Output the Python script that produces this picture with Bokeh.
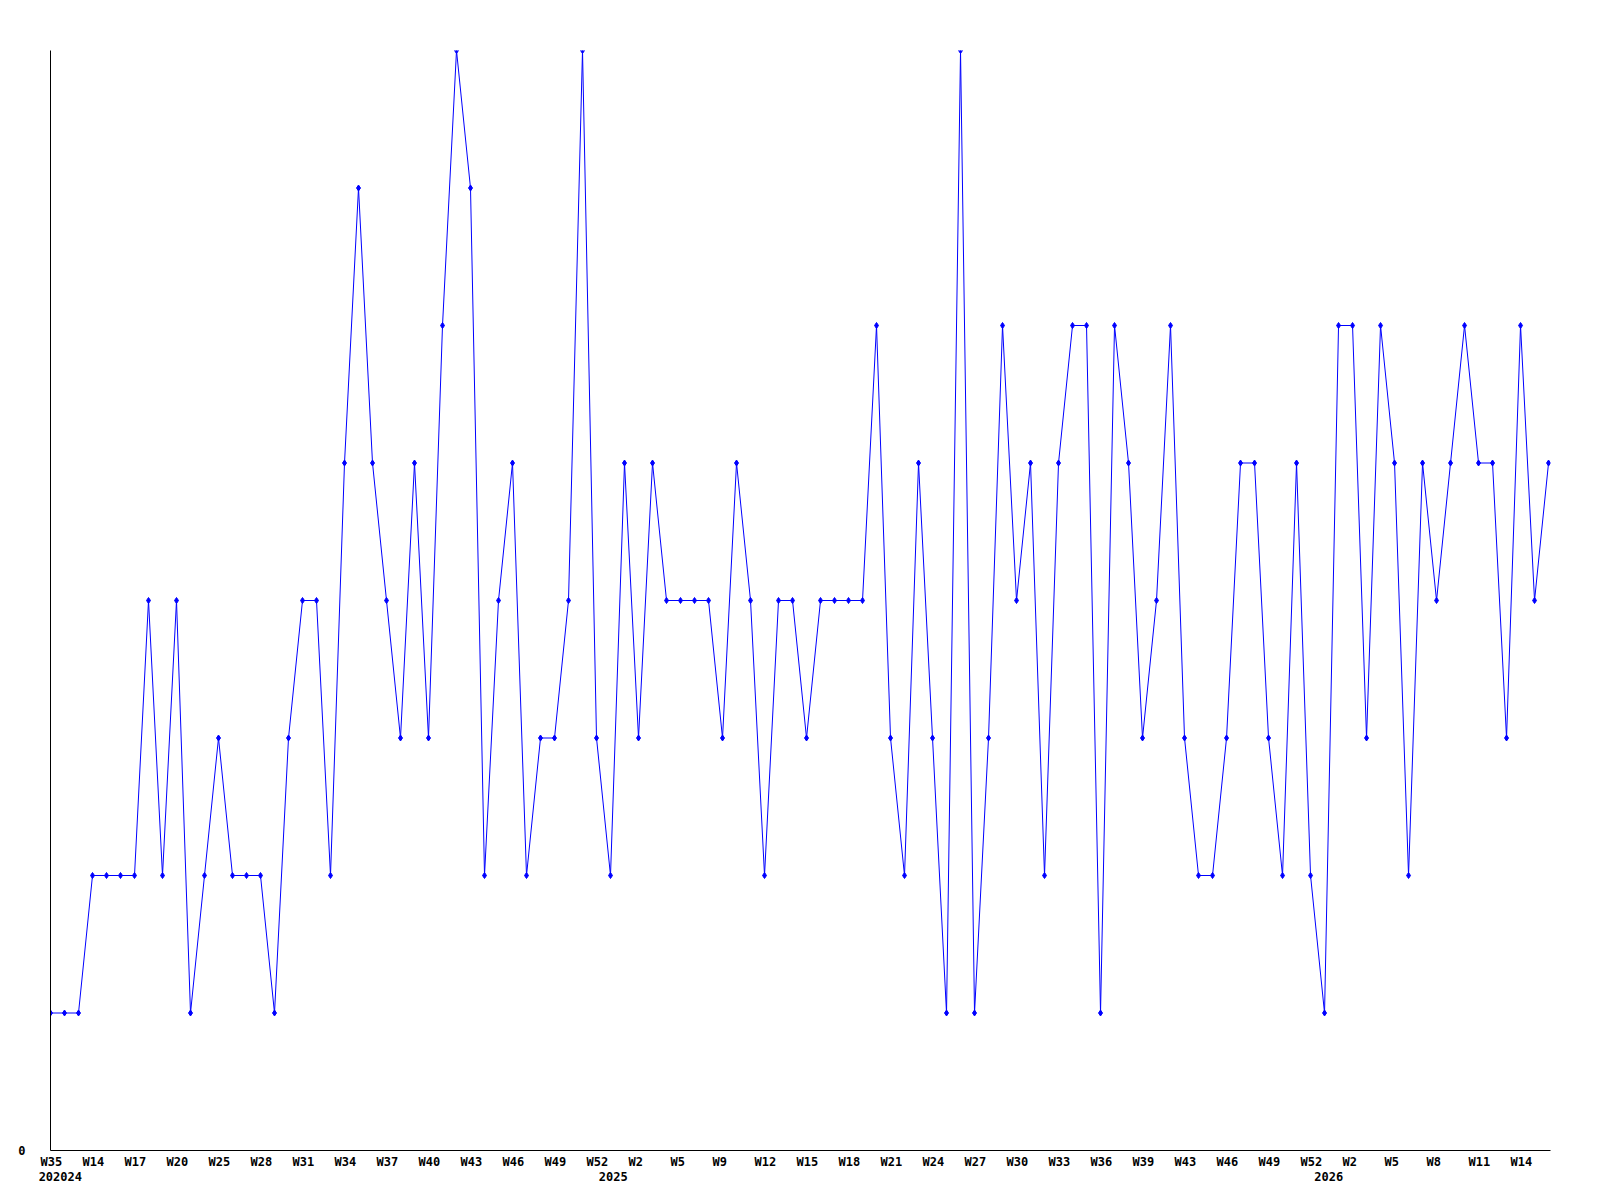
from bokeh.plotting import figure
from bokeh.models import Range1d, FixedTicker, LinearAxis
from bokeh.embed import file_html
from bokeh.resources import INLINE

values = [1, 1, 1, 2, 2, 2, 2, 4, 2, 4,
          1, 2, 3, 2, 2, 2, 1, 3, 4, 4,
          2, 5, 7, 5, 4, 3, 5, 3, 6, 8,
          7, 2, 4, 5, 2, 3, 3, 4, 8, 3,
          2, 5, 3, 5, 4, 4, 4, 4, 3, 5,
          4, 2, 4, 4, 3, 4, 4, 4, 4, 6,
          3, 2, 5, 3, 1, 8, 1, 3, 6, 4,
          5, 2, 5, 6, 6, 1, 6, 5, 3, 4,
          6, 3, 2, 2, 3, 5, 5, 3, 2, 5,
          2, 1, 6, 6, 3, 6, 5, 2, 5, 4,
          5, 6, 5, 5, 3, 6, 4, 5]
x_idx = list(range(len(values)))

week_idx = list(range(0, 106, 3))
week_labels = ["W35", "W14", "W17", "W20", "W25", "W28", "W31", "W34", "W37", "W40",
               "W43", "W46", "W49", "W52", "W2", "W5", "W9", "W12", "W15", "W18",
               "W21", "W24", "W27", "W30", "W33", "W36", "W39", "W43", "W46", "W49",
               "W52", "W2", "W5", "W8", "W11", "W14"]
year_pos = [0.7, 40.2, 91.3]
year_labels = ["202024", "2025", "2026"]

FONT = "DejaVu Sans Mono"
FSIZE = "12px"
PX_PER_IDX = 1500 / 107.14

# labels in the reference start ~10px left of their point: shift centres accordingly
week_ticks = [i + (-10 + len(l) * 7.2 / 2) / PX_PER_IDX for i, l in zip(week_idx, week_labels)]

p = figure(width=1600, height=1200, output_backend="svg", toolbar_location=None,
           x_range=Range1d(0, 107.14), y_range=Range1d(0, 8),
           min_border_left=50, min_border_right=50, min_border_top=50, min_border_bottom=50,
           x_axis_location=None, y_axis_location=None)
p.grid.visible = False
p.outline_line_color = None
p.background_fill_color = "white"
p.border_fill_color = "white"

p.line(x_idx, values, line_color="#0000ff", line_width=1)
p.scatter(x_idx, values, marker="diamond", size=6, color="#0000ff")


def style(ax, standoff):
    ax.major_tick_line_color = None
    ax.minor_tick_line_color = None
    ax.major_tick_out = 0
    ax.major_tick_in = 0
    ax.minor_tick_out = 0
    ax.minor_tick_in = 0
    ax.major_label_standoff = standoff
    ax.major_label_text_font = FONT
    ax.major_label_text_font_style = "bold"
    ax.major_label_text_font_size = FSIZE
    ax.major_label_text_color = "black"


xa = LinearAxis(ticker=FixedTicker(ticks=week_ticks),
                major_label_overrides={t: l for t, l in zip(week_ticks, week_labels)})
xa.axis_line_color = "black"
xa.axis_line_width = 1
style(xa, 4)
p.add_layout(xa, "below")

xa2 = LinearAxis(ticker=FixedTicker(ticks=year_pos),
                 major_label_overrides={t: l for t, l in zip(year_pos, year_labels)})
xa2.axis_line_color = None
style(xa2, 0)
p.add_layout(xa2, "below")

ya = LinearAxis(ticker=FixedTicker(ticks=[0]))
ya.axis_line_color = "black"
style(ya, 25)
p.add_layout(ya, "left")

open("out.html", "w").write(file_html(p, INLINE))
